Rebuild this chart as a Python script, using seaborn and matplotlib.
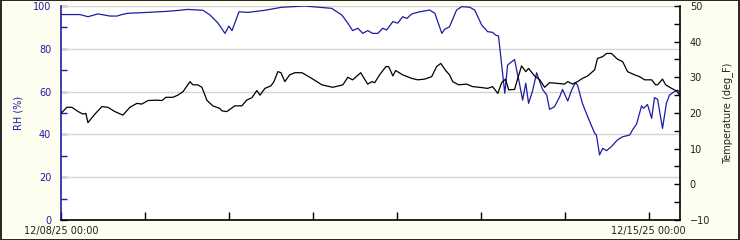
import numpy as np
import pandas as pd
import matplotlib
matplotlib.use("Agg")
import matplotlib.pyplot as plt
import seaborn as sns
from matplotlib.patches import Rectangle
from matplotlib.ticker import MultipleLocator

# ---- data (hours since 12/08/25 00:00) ----
rh_hours = [0, 5.4, 7.7, 10.6, 14.0, 16.0, 17.4, 19.1, 24.6, 30.3, 34.0, 36.3, 40.6, 42.6,
            44.0, 44.9, 46.9, 48.0, 48.9, 50.9, 53.4, 58.3, 63.1, 69.7, 77.4, 80.3, 82.0,
            83.4, 84.9, 86.3, 87.7, 89.1, 90.6, 92.0, 93.1, 94.9, 96.3, 97.7, 98.9, 100.3,
            102.6, 105.4, 106.9, 108.9, 109.7, 111.1, 113.1, 114.6, 116.9, 118.3, 120.3,
            122.0, 123.4, 124.3, 125.1, 126.9, 127.7, 128.3, 129.7, 130.3, 130.9, 132.0,
            132.9, 133.7, 134.9, 136.0, 136.9, 137.7, 138.9, 139.7, 141.1, 142.6, 143.4,
            144.9, 146.0, 147.1, 147.7, 149.1, 150.6, 152.6, 153.1, 154.0, 154.9, 156.0,
            157.4, 159.1, 160.6, 162.6, 163.4, 164.6, 166.0, 166.6, 167.7, 168.9, 169.7,
            170.6, 172.0, 173.1, 174.0, 175.4, 176.3, 176.9]
rh_values = [96, 96, 95, 96.3, 95.3, 95.3, 96, 96.6, 97, 97.5, 98, 98.4, 98, 95.8,
             93.5, 92, 87.2, 90.6, 88.5, 97.3, 97, 98, 99.4, 100, 98.9, 95.8, 92,
             88.5, 89.6, 87.2, 88.5, 87.2, 87.2, 89.6, 88.8, 92.7, 92, 95, 94.2, 96.3,
             97.3, 98.1, 96.6, 87.2, 89.1, 90.3, 98.1, 99.7, 99.4, 98.1, 91.1,
             88, 87.7, 86.4, 86, 59.2, 72.4, 73.2, 75, 70, 65.4, 56,
             63.9, 54.5, 60.7, 68.8, 64.6, 61, 58.4, 51.7, 52.9, 57.6, 61,
             55.6, 60.7, 64.2, 63, 54.5, 48.3, 40.5, 39.7, 30.4, 33.5, 32.4,
             34.3, 37.4, 38.9, 39.7, 42, 44.9, 53.3, 52.2, 54, 47.5, 57.2,
             56.4, 42.8, 54.5, 58.4, 60, 60.7, 59.8]

t_hours = [0, 1.7, 3.1, 4.9, 6.3, 7.1, 7.7, 9.7, 11.7, 13.4, 15.4, 17.7, 19.7, 21.7,
           23.1, 24.9, 27.4, 28.9, 30.0, 32.0, 33.4, 34.9, 36.9, 37.7, 39.1, 40.3, 41.7,
           43.4, 45.4, 46.0, 47.4, 49.7, 51.7, 53.1, 54.6, 56.0, 56.9, 58.3, 60.0, 60.9,
           62.0, 62.9, 64.0, 65.4, 66.9, 68.9, 71.7, 74.6, 77.7, 80.6, 82.0, 83.4, 85.7,
           87.7, 88.9, 89.7, 91.1, 92.9, 93.7, 94.9, 95.7, 97.7, 100.3, 102.0, 104.0,
           106.0, 107.4, 108.6, 110.0, 111.1, 112.0, 113.7, 116.0, 117.7, 119.7, 122.0,
           123.4, 124.9, 126.0, 127.1, 128.0, 129.7, 130.6, 131.7, 132.9, 133.7, 135.4,
           136.9, 138.3, 139.7, 142.0, 144.0, 144.9, 146.3, 147.7, 149.1, 150.6, 152.6,
           153.4, 154.9, 156.0, 157.4, 159.1, 160.6, 162.0, 164.0, 165.4, 166.9, 168.9,
           170.0, 170.6, 172.0, 172.9, 174.6, 176.0, 176.9]
t_values = [19.9, 21.6, 21.6, 20.4, 19.7, 19.9, 17.3, 19.7, 21.8, 21.6, 20.4, 19.4, 21.6, 22.7,
            22.5, 23.5, 23.6, 23.5, 24.4, 24.4, 25, 26, 28.8, 27.9, 27.9, 27.2, 23.6,
            22, 21.3, 20.6, 20.4, 22, 22, 23.6, 24.3, 26.3, 25, 26.9, 27.6, 28.8,
            31.6, 31.3, 28.8, 30.7, 31.3, 31.3, 29.7, 27.9, 27.2, 27.9, 30, 29.3, 31.3,
            28.1, 28.8, 28.5, 30.7, 33, 33, 30.4, 31.9, 30.7, 29.7, 29.3, 29.5,
            30.2, 33, 33.9, 31.9, 30.7, 28.8, 27.9, 28.1, 27.4, 27.2, 26.9,
            27.4, 25.5, 28.5, 29.5, 26.5, 26.6, 29.7, 33.2, 31.6, 32.5, 30.4,
            29.3, 27.2, 28.5, 28.3, 28.1, 28.8, 28.1, 28.8, 29.7, 30.4, 32.1,
            35.3, 35.8, 36.7, 36.7, 35.1, 34.4, 31.6, 30.7, 30.2, 29.3, 29.3,
            27.9, 27.9, 29.5, 27.9, 26.9, 26.2, 25]

start_date = "2025-12-08"
n_days = 8
x_end_hours = 177
left_label = "RH (%)"
right_label = "Temperature (deg_F)"

# ---- style ----
sns.set_style("white")
plt.rcParams["font.family"] = ["DejaVu Sans"]
BLUE = "#1c1ca4"
BG = "#fdfdf0"

fig = plt.figure(figsize=(7.4, 2.4), dpi=100, facecolor=BG)
ax = fig.add_axes([61 / 740, 1 - 220 / 240, (680 - 61) / 740, (220 - 6) / 240])
ax.set_facecolor("white")
ax2 = ax.twinx()

df_rh = pd.DataFrame({"h": rh_hours, "v": rh_values})
df_t = pd.DataFrame({"h": t_hours, "v": t_values})

sns.lineplot(data=df_rh, x="h", y="v", ax=ax, color=BLUE, linewidth=0.9, zorder=3)
sns.lineplot(data=df_t, x="h", y="v", ax=ax2, color="black", linewidth=0.9, zorder=3)

ax.set_xlim(0, x_end_hours)
ax.set_ylim(0, 100)
ax2.set_ylim(-10, 50)

# grid
for g in [20, 40, 60, 80, 100]:
    ax.axhline(g, color="#d4d4d4", linewidth=1.0, zorder=1)

# x ticks
days = pd.date_range(start_date, periods=n_days, freq="D")
xt = [i * 24 for i in range(n_days)]
xl = [d.strftime("%m/%d/%y %H:%M") if i in (0, n_days - 1) else "" for i, d in enumerate(days)]
ax.set_xticks(xt)
ax.set_xticklabels(xl)
ax.tick_params(axis="x", bottom=True, direction="in", length=6, width=1, color="black",
               labelsize=7, pad=4, labelcolor="#222222")
ax2.tick_params(axis="x", bottom=False, top=False)

# left y
ax.yaxis.set_major_locator(MultipleLocator(20))
ax.yaxis.set_minor_locator(MultipleLocator(10))
ax.tick_params(axis="y", which="major", left=True, direction="in", length=4, width=1, color=BLUE,
               labelsize=7, labelcolor=BLUE, pad=7)
ax.tick_params(axis="y", which="minor", left=True, direction="in", length=4, width=1, color=BLUE)
ax.set_ylabel(left_label, color=BLUE, fontsize=7)
ax.yaxis.set_label_coords(-0.06, 0.5)

# right y
ax2.yaxis.set_major_locator(MultipleLocator(10))
ax2.yaxis.set_minor_locator(MultipleLocator(5))
ax2.tick_params(axis="y", which="major", right=True, direction="in", length=4, width=1, color="black",
                labelsize=7, labelcolor="#222222", pad=7)
ax2.tick_params(axis="y", which="minor", right=True, direction="in", length=4, width=1, color="black")
ax2.set_ylabel(right_label, color="#222222", fontsize=7)
ax2.yaxis.set_label_coords(1.068, 0.5)
ax.set_xlabel("")

for a in (ax, ax2):
    a.spines["top"].set_visible(False)
ax.spines["left"].set_color(BLUE)
ax.spines["left"].set_linewidth(1.2)
ax.spines["bottom"].set_color("black")
ax.spines["bottom"].set_linewidth(1.2)
ax.spines["right"].set_visible(False)
ax2.spines["left"].set_visible(False)
ax2.spines["bottom"].set_visible(False)
ax2.spines["right"].set_color("black")
ax2.spines["right"].set_linewidth(1.2)

# figure border
fig.patches.append(Rectangle((0.0007, 0.002), 0.9986, 0.996, transform=fig.transFigure,
                             fill=False, edgecolor="black", linewidth=1.2))

fig.savefig("out.png", dpi=100, facecolor=BG)
